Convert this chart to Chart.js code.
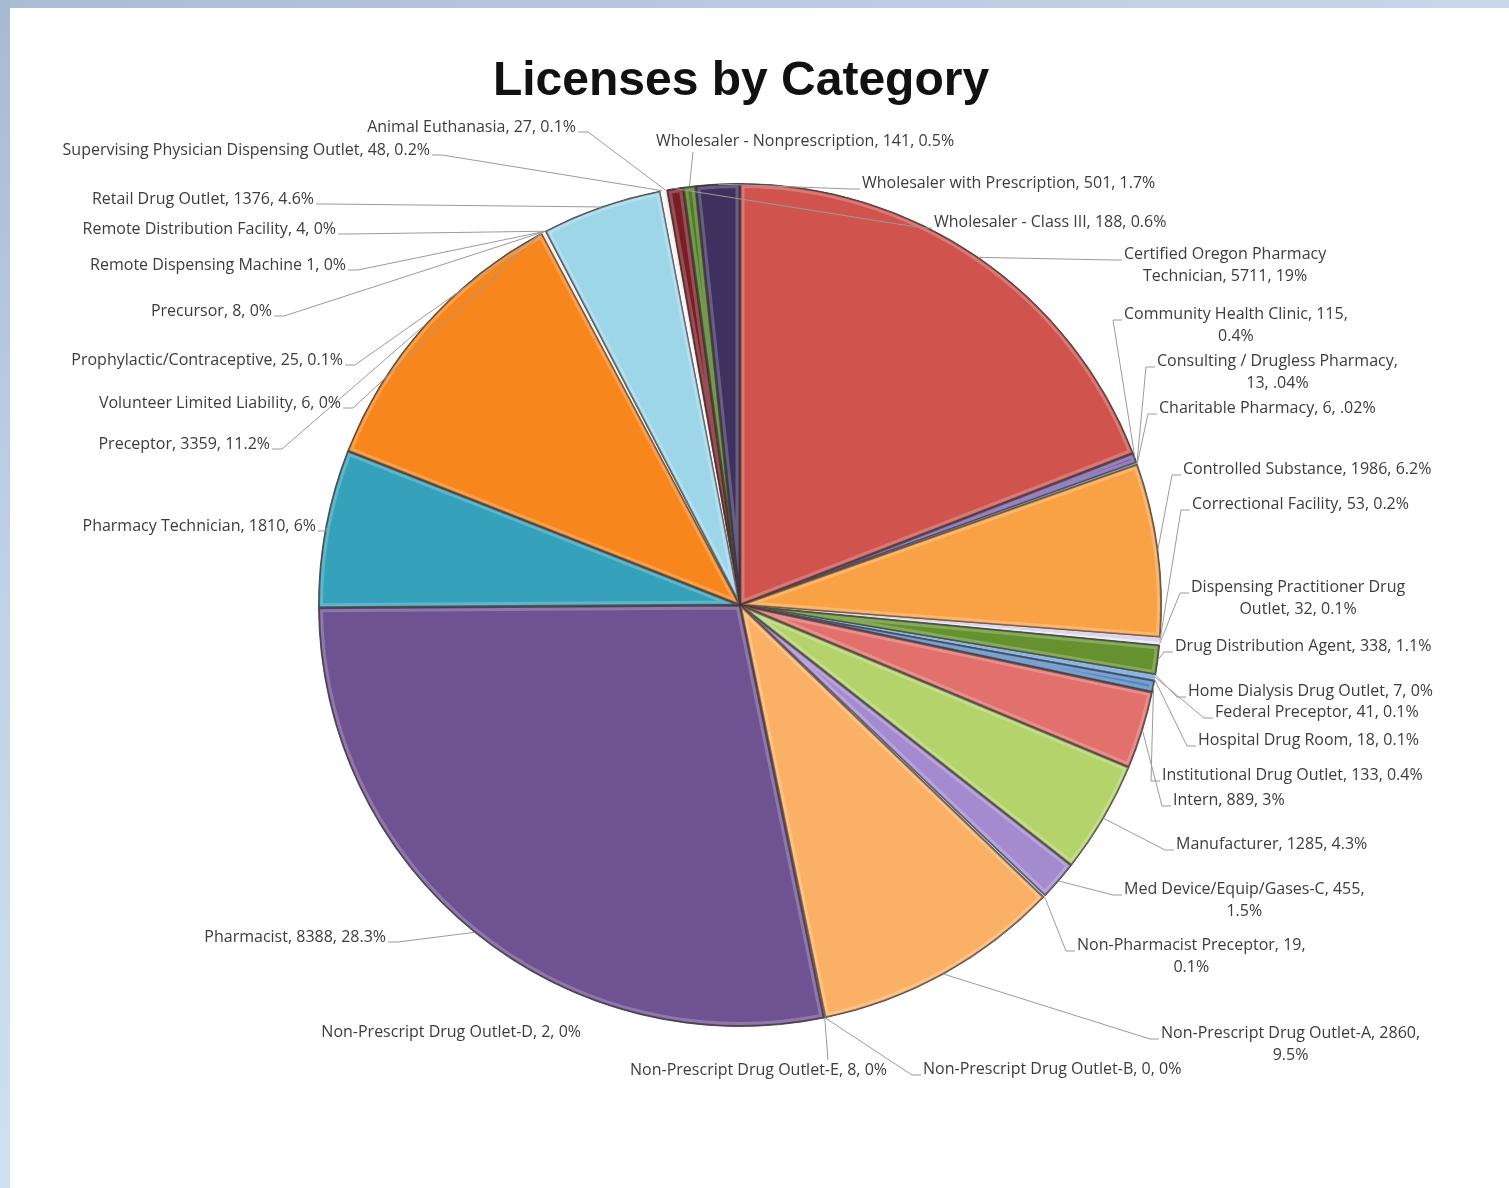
<!DOCTYPE html>
<html>
<head>
<meta charset="utf-8">
<title>Licenses by Category</title>
<script src="https://cdn.jsdelivr.net/npm/chart.js@4.4.0/dist/chart.umd.min.js"></script>
<style>
  html, body { margin: 0; padding: 0; width: 1509px; height: 1188px; overflow: hidden; }
  body { background: linear-gradient(90deg, #a8bcd6 0%, #bccde3 60%, #c8d7ea 100%); }
  #edge { position: absolute; left: 0; top: 0; width: 10px; height: 1188px;
          background: linear-gradient(180deg, #a6bad4 0%, #bdd0e6 45%, #cfe0f1 100%); }
  #panel { position: absolute; left: 10px; top: 8px; right: 0; bottom: 0; background: #ffffff; }
  canvas { position: absolute; left: 0; top: 0; }
</style>
</head>
<body>
<div id="edge"></div>
<div id="panel"></div>
<canvas id="chart" width="1509" height="1188"></canvas>
<script>
// License categories, in the order they are plotted (clockwise from 12 o'clock)
const categories = [
  'Certified Oregon Pharmacy Technician', 'Community Health Clinic', 'Consulting / Drugless Pharmacy',
  'Charitable Pharmacy', 'Controlled Substance', 'Correctional Facility',
  'Dispensing Practitioner Drug Outlet', 'Drug Distribution Agent', 'Home Dialysis Drug Outlet',
  'Federal Preceptor', 'Hospital Drug Room', 'Institutional Drug Outlet',
  'Intern', 'Manufacturer', 'Med Device/Equip/Gases-C',
  'Non-Pharmacist Preceptor', 'Non-Prescript Drug Outlet-A', 'Non-Prescript Drug Outlet-B',
  'Non-Prescript Drug Outlet-E', 'Non-Prescript Drug Outlet-D', 'Pharmacist',
  'Pharmacy Technician', 'Preceptor', 'Volunteer Limited Liability',
  'Prophylactic/Contraceptive', 'Precursor', 'Remote Dispensing Machine',
  'Remote Distribution Facility', 'Retail Drug Outlet', 'Supervising Physician Dispensing Outlet',
  'Animal Euthanasia', 'Wholesaler - Class III', 'Wholesaler - Nonprescription',
  'Wholesaler with Prescription'
];

// Number of licenses per category
const counts = [
  5711, 115, 13,
  6, 1986, 53,
  32, 338, 7,
  41, 18, 133,
  889, 1285, 455,
  19, 2860, 0,
  8, 2, 8388,
  1810, 3359, 6,
  25, 8, 1,
  4, 1376, 48,
  27, 188, 141,
  501
];

// Share of the total as printed on each label
const shares = [
  '19%', '0.4%', '.04%',
  '.02%', '6.2%', '0.2%',
  '0.1%', '1.1%', '0%',
  '0.1%', '0.1%', '0.4%',
  '3%', '4.3%', '1.5%',
  '0.1%', '9.5%', '0%',
  '0%', '0%', '28.3%',
  '6%', '11.2%', '0%',
  '0.1%', '0%', '0%',
  '0%', '4.6%', '0.2%',
  '0.1%', '0.6%', '0.5%',
  '1.7%'
];

const chartTitle = 'Licenses by Category';

// Slice fills
const sliceColors = [
  '#d0534e', '#7b5ea7', '#4bacc6',
  '#f79646', '#f9a245', '#ddd5ea',
  '#e9eff7', '#65922f', '#4f81bd',
  '#8db3e2', '#5b9bd5', '#5588c4',
  '#e2706c', '#b4d46b', '#a48bd0',
  '#9fd5e8', '#fbb165', '#ffffff',
  '#8a72ab', '#8a72ab', '#6f5292',
  '#35a1ba', '#f7861c', '#eef5fa',
  '#fbf1e6', '#f3f0f8', '#eef4fa',
  '#f6f6f6', '#9ed6e9', '#f7f7f7',
  '#f4e6e6', '#7a1d24', '#4e7b21',
  '#3e305f'
];

// Where each callout sits: side 'L' = text starts at x, side 'R' = text ends at x;
// y is the centre of the first line; wrap = words kept on the first line.
const calloutLayout = [
  { side: 'L', x: 1124, y: 254, wrap: 3 },
  { side: 'L', x: 1124, y: 314, wrap: 4 },
  { side: 'L', x: 1157, y: 361, wrap: 4 },
  { side: 'L', x: 1159, y: 408 },
  { side: 'L', x: 1183, y: 469 },
  { side: 'L', x: 1192, y: 504 },
  { side: 'L', x: 1191, y: 587, wrap: 3 },
  { side: 'L', x: 1175, y: 646 },
  { side: 'L', x: 1188, y: 691 },
  { side: 'L', x: 1215, y: 712 },
  { side: 'L', x: 1198, y: 740 },
  { side: 'L', x: 1162, y: 775 },
  { side: 'L', x: 1173, y: 800 },
  { side: 'L', x: 1176, y: 844 },
  { side: 'L', x: 1124, y: 889, wrap: 3 },
  { side: 'L', x: 1077, y: 945, wrap: 3 },
  { side: 'L', x: 1161, y: 1033, wrap: 4 },
  { side: 'L', x: 923, y: 1069 },
  { side: 'R', x: 887, y: 1070, ax: 828, ay: 1060 },
  { side: 'R', x: 581, y: 1032, noLine: true },
  { side: 'R', x: 386, y: 937 },
  { side: 'R', x: 316, y: 526 },
  { side: 'R', x: 270, y: 444 },
  { side: 'R', x: 341, y: 403 },
  { side: 'R', x: 343, y: 360 },
  { side: 'R', x: 272, y: 311 },
  { side: 'R', x: 346, y: 265, sep: ' ' },
  { side: 'R', x: 336, y: 229 },
  { side: 'R', x: 314, y: 199 },
  { side: 'R', x: 430, y: 150 },
  { side: 'R', x: 576, y: 127 },
  { side: 'L', x: 934, y: 222 },
  { side: 'L', x: 656, y: 141, ax: 693, ay: 152 },
  { side: 'L', x: 862, y: 183 }
];

const total = counts.reduce((a, b) => a + b, 0);
// Slivers below this share get no outline so their light fill shows through
const sliverShare = 0.0025;
const isSliver = i => counts[i] / total < sliverShare;

function calloutText(i) {
  const sep = calloutLayout[i].sep || ', ';
  return categories[i] + sep + counts[i] + ', ' + shares[i];
}

// Soft bevel: light rim just inside each slice plus a dark outline
const bevelPlugin = {
  id: 'bevel',
  afterDatasetsDraw(chart) {
    const ctx = chart.ctx;
    chart.getDatasetMeta(0).data.forEach((arc, i) => {
      if (isSliver(i)) return;
      const p = arc.getProps(['x', 'y', 'startAngle', 'endAngle', 'outerRadius'], true);
      ctx.save();
      ctx.beginPath();
      ctx.moveTo(p.x, p.y);
      ctx.arc(p.x, p.y, p.outerRadius, p.startAngle, p.endAngle);
      ctx.closePath();
      ctx.clip();
      ctx.lineJoin = 'round';
      ctx.strokeStyle = 'rgba(255,255,255,0.22)';
      ctx.lineWidth = 9;
      ctx.stroke();
      ctx.strokeStyle = 'rgba(20,10,10,0.45)';
      ctx.lineWidth = 3;
      ctx.stroke();
      ctx.restore();
    });
  }
};

// Data labels with leader lines
const calloutPlugin = {
  id: 'callouts',
  afterDraw(chart, args, opts) {
    const ctx = chart.ctx;
    const arcs = chart.getDatasetMeta(0).data;
    ctx.save();
    ctx.font = opts.font;
    ctx.textBaseline = 'middle';
    ctx.textAlign = 'center';
    arcs.forEach((arc, i) => {
      const L = calloutLayout[i];
      const p = arc.getProps(['x', 'y', 'startAngle', 'endAngle', 'outerRadius'], true);
      const mid = (p.startAngle + p.endAngle) / 2;
      const anchor = { x: p.x + Math.cos(mid) * p.outerRadius, y: p.y + Math.sin(mid) * p.outerRadius };
      const text = calloutText(i);
      const words = text.split(' ');
      const lines = L.wrap ? [words.slice(0, L.wrap).join(' '), words.slice(L.wrap).join(' ')] : [text];
      const w = Math.max(...lines.map(s => ctx.measureText(s).width));
      const left = L.side === 'L' ? L.x : L.x - w;

      if (!L.noLine) {
        let ax, ay, tx = null;
        if (L.ax !== undefined) { ax = L.ax; ay = L.ay; }
        else if (L.side === 'L') { ax = left - 11; ay = L.y + 6; tx = left - 2; }
        else { ax = left + w + 12; ay = L.y + 5; tx = left + w + 2; }
        ctx.strokeStyle = opts.lineColor;
        ctx.lineWidth = 1;
        ctx.beginPath();
        ctx.moveTo(anchor.x, anchor.y);
        ctx.lineTo(ax, ay);
        if (tx !== null) ctx.lineTo(tx, ay);
        ctx.stroke();
      }

      ctx.fillStyle = opts.color;
      lines.forEach((s, k) => ctx.fillText(s, left + w / 2, L.y + k * opts.lineHeight));
    });
    ctx.restore();
  }
};

// Chart heading
const headingPlugin = {
  id: 'heading',
  afterDraw(chart, args, opts) {
    const ctx = chart.ctx;
    ctx.save();
    ctx.font = opts.font;
    ctx.fillStyle = opts.color;
    ctx.textAlign = 'center';
    ctx.textBaseline = 'alphabetic';
    ctx.fillText(opts.text, opts.x, opts.y);
    ctx.restore();
  }
};

new Chart(document.getElementById('chart'), {
  type: 'pie',
  data: {
    labels: categories,
    datasets: [{
      data: counts,
      backgroundColor: sliceColors,
      borderColor: 'rgba(45,30,30,0.7)',
      borderWidth: c => (isSliver(c.dataIndex) ? 0 : 1)
    }]
  },
  options: {
    responsive: false,
    animation: false,
    layout: { padding: { left: 318, right: 347, top: 183, bottom: 161 } },
    plugins: {
      legend: { display: false },
      tooltip: { enabled: false },
      title: { display: false },
      callouts: {
        font: '16px "Open Sans", sans-serif',
        color: '#3c3c3c',
        lineColor: '#9a9a9a',
        lineHeight: 22
      },
      heading: {
        text: chartTitle,
        font: 'bold 48px "Liberation Sans", Arial, sans-serif',
        color: '#111111',
        x: 741,
        y: 95
      }
    }
  },
  plugins: [bevelPlugin, calloutPlugin, headingPlugin]
});
</script>
</body>
</html>
